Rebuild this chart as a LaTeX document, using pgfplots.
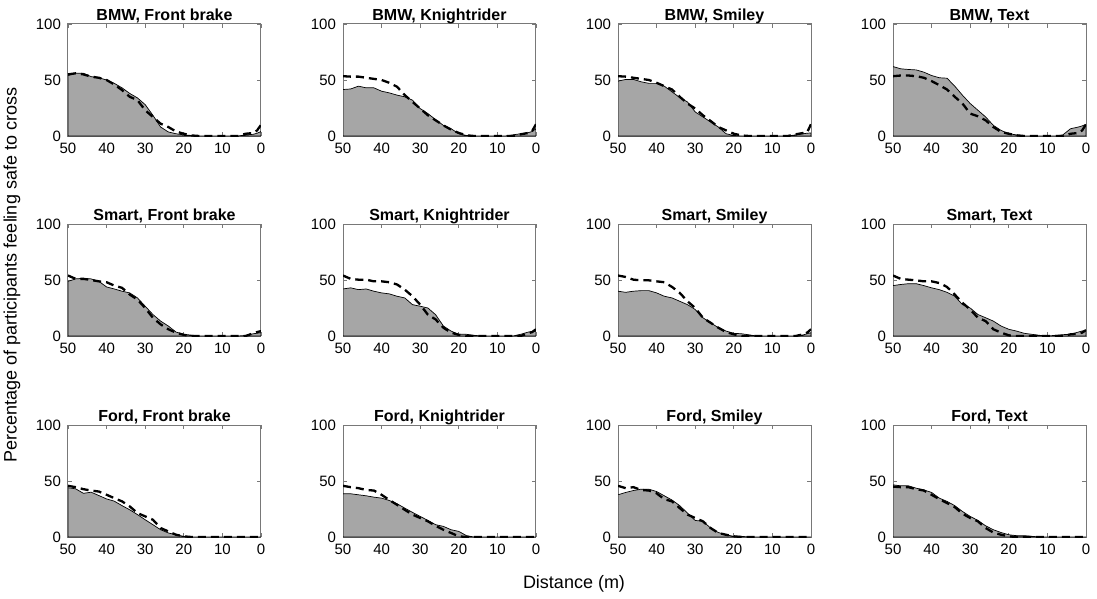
\documentclass[border=0pt]{standalone}
\usepackage{fontspec}
\setmainfont{Liberation Sans}
\usepackage{pgfplots}
\usepackage{pgfplotstable}
\pgfplotsset{compat=1.18}

\definecolor{areagray}{RGB}{166,166,166}
\definecolor{framegray}{RGB}{120,120,120}

% d = distance (m), s = grey area (solid), k = dashed line
\pgfplotstableread{
d s k
50 54 55
48 56 56
46 56 55
44 53 53
42 52 52
40 50 50
38 47 46
36 43 41
34 38 35
32 34 32
30 28 23
28 18.5 17
26 8 11
24 3.6 8
22 2 4
20 1 2
18 0.5 0.5
16 0 0
14 0 0
12 0 0
10 0 0
8 0 0
6 0 0
4 1 2
2 1.5 2.7
1 2.5 5
0 4 10
}\bmwFront
\pgfplotstableread{
d s k
50 41.5 53.4
48 42 53
46 44.5 53
44 43 52
42 43 51
40 40 50
38 38.5 47.5
36 36.5 44
34 35 36.5
32 32 30.5
30 24.5 24.5
28 20 18.5
26 14.6 14
24 9.5 9.5
22 6.5 5.7
20 2 2.7
18 0.5 0.6
16 0 0
14 0 0
12 0 0
10 0 0
8 0 0
6 1 0
4 2 1.5
2 3 2.7
1 4 4.5
0 6.5 10.5
}\bmwKnight
\pgfplotstableread{
d s k
50 49 53.4
48 50.5 53
46 50.5 52
44 48.4 51
42 47 50
40 47 47.5
38 44.5 44.5
36 39.4 41.5
34 34.3 35
32 30.4 29
30 21.5 24.5
28 17 18.5
26 12.5 13.4
24 8 8
22 2 5
20 0.5 2
18 0 0.5
16 0 0
14 0 0
12 0 0
10 0 0
8 0 0
6 0 0
4 1 1.5
2 2 2.7
1 2.5 3.3
0 2.7 10.5
}\bmwSmiley
\pgfplotstableread{
d s k
50 62 53.4
48 60 54
46 59.4 54
44 59 53.4
42 57 52
40 54 49
38 52 45.4
36 51.6 41.5
34 44.5 35
32 36.4 29
30 29 20
28 23 17.6
26 17 14
24 9.5 8
22 5 3.6
20 2 2
18 1 0.6
16 0 0
14 0 0
12 0 0
10 0 0
8 0 0
6 1 0
4 6.5 2
2 8 2.7
1 9 5
0 10.4 10.4
}\bmwText
\pgfplotstableread{
d s k
50 48.8 54
48 51 51
46 51.5 51
44 51 50
42 48.8 48.8
40 43.8 48
38 42 45
36 40 43
34 38.5 37
32 34 32.5
30 26.6 25
28 19.2 16.3
26 13.3 10.4
24 8.9 6
22 3.5 3
20 1.5 1
18 0.8 0
16 0 0
14 0 0
12 0 0
10 0 0
8 0 0
6 0 0
4 0.5 0
2 2 2.4
1 2.5 3.5
0 3 4.4
}\smartFront
\pgfplotstableread{
d s k
50 42 54
48 43 51
46 41.4 50.3
44 42 50.3
42 40 48.8
40 38.5 48.8
38 37.6 48
36 35.5 46
34 34 41.4
32 28 35.5
30 26.6 28
28 25 19
26 19 14.8
24 9 7.4
22 4.4 3
20 1.5 1
18 1.5 0
16 0.6 0
14 0 0
12 0 0
10 0 0
8 0 0
6 0 0
4 1.5 0
2 3.5 2.4
1 4 3.5
0 4.4 6
}\smartKnight
\pgfplotstableread{
d s k
50 40 54
48 39 52.7
46 40 50.3
44 40.5 49.7
42 40.5 49.7
40 38.5 48.8
38 35.5 48
36 34 43.8
34 31 38.5
32 28 31
30 23.7 25
28 16.3 16.3
26 11.8 11.8
24 7.4 7.4
22 4.4 3.5
20 2.4 1.5
18 2 0
16 1 0
14 0 0
12 0 0
10 0 0
8 0 0
6 0 0
4 0 0
2 1 1.5
1 2 3
0 3 6
}\smartSmiley
\pgfplotstableread{
d s k
50 45 54
48 46 51
46 46.7 50.3
44 46.7 49.7
42 45 48.8
40 43 48.8
38 41.4 47.3
36 39 43.8
34 35.5 37
32 28 29.6
30 25 23.7
28 19.2 16.3
26 16.3 13.3
24 13.3 6
22 8.9 3
20 6 0.6
18 4.4 0
16 2.4 0
14 1.5 0
12 0.6 0
10 0 0
8 0.6 0
6 1.2 0
4 1.5 1.5
2 3.5 2
1 4.5 3
0 5 5.3
}\smartText
\pgfplotstableread{
d s k
50 44 45.7
48 43 44.5
46 39 42.7
44 40 41.5
42 37 40.6
40 34 37.7
38 32 34.7
36 28 31.8
34 24.3 27.3
32 20 21.4
30 15.4 18.4
28 11 15.4
26 6.5 8
24 3.6 5
22 2 2
20 0.6 0.6
18 0 0
16 0 0
14 0 0
12 0 0
10 0 0
8 0 0
6 0 0
4 0 0
2 0 0
1 0 0
0 0 0
}\fordFront
\pgfplotstableread{
d s k
50 38.6 45.7
48 38.6 44.5
46 37.7 43.6
44 36.8 42
42 35.6 41.5
40 34.7 37.7
38 32.6 33
36 29.7 28.8
34 25.8 24.3
32 22 20
30 18.4 17
28 14.8 14
26 11 10
24 9.5 6.5
22 6.5 3.6
20 5 0.6
18 1.2 0
16 0 0
14 0 0
12 0 0
10 0 0
8 0 0
6 0 0
4 0 0
2 0 0
1 0 0
0 0 0
}\fordKnight
\pgfplotstableread{
d s k
50 37.7 45.7
48 39.8 43.6
46 41.5 44.5
44 42.7 42
42 42.7 41.5
40 40.6 39
38 36.8 33.8
36 33 31.8
34 28 25.8
32 21.4 20
30 14.8 17
28 14 14
26 8 8
24 4 3.6
22 2 2
20 0.6 0.6
18 0.6 0
16 0 0
14 0 0
12 0 0
10 0 0
8 0 0
6 0 0
4 0 0
2 0 0
1 0 0
0 0 0
}\fordSmiley
\pgfplotstableread{
d s k
50 46.6 45
48 45.7 44.5
46 45.7 44.5
44 43.6 42.7
42 42 41.5
40 39.8 37.7
38 34.7 33.8
36 31.8 30.3
34 28 26.7
32 22.8 20.8
30 18.4 17
28 14.8 14
26 10 8
24 6.5 4
22 4 2
20 2 0.6
18 1.2 0
16 1.2 0
14 0.6 0
12 0 0
10 0 0
8 0 0
6 0 0
4 0 0
2 0 0
1 0 0
0 0 0
}\fordText

\pgfplotsset{
  panel/.style={
    scale only axis,
    width=96.5pt, height=56pt,
    anchor=north west,
    x dir=reverse,
    xmin=0, xmax=50, ymin=0, ymax=100,
    xtick={0,10,20,30,40,50},
    ytick={0,50,100},
    tick align=inside,
    major tick length=2pt,
    axis line style={framegray, line width=0.5pt},
    every tick/.style={framegray, line width=0.4pt},
    tick label style={font=\fontsize{7.5}{9}\selectfont},
    /pgf/number format/assume math mode=true,
    title style={font=\bfseries\fontsize{8}{9.5}\selectfont, inner sep=0pt,
      anchor=base, yshift=-4.3pt},
  }
}

\newcommand\panel[4]{%
  \begin{axis}[panel, at={(#1*0.5pt,-#2*0.5pt)}, title={#3}]
    \addplot[fill=areagray, draw=black, line width=0.35pt] table[x=d,y=s]{#4} \closedcycle;
    \addplot[black, line width=1.15pt, dash pattern=on 4pt off 2.5pt] table[x=d,y=k]{#4};
  \end{axis}}

\begin{document}
\begin{tikzpicture}
  \useasboundingbox (0,0) rectangle (548.5pt,-299.5pt);

  \panel{68}{24}{BMW, Front brake}{\bmwFront}
  \panel{343}{24}{BMW, Knightrider}{\bmwKnight}
  \panel{618}{24}{BMW, Smiley}{\bmwSmiley}
  \panel{893}{24}{BMW, Text}{\bmwText}

  \panel{68}{224}{Smart, Front brake}{\smartFront}
  \panel{343}{224}{Smart, Knightrider}{\smartKnight}
  \panel{618}{224}{Smart, Smiley}{\smartSmiley}
  \panel{893}{224}{Smart, Text}{\smartText}

  \panel{68}{425}{Ford, Front brake}{\fordFront}
  \panel{343}{425}{Ford, Knightrider}{\fordKnight}
  \panel{618}{425}{Ford, Smiley}{\fordSmiley}
  \panel{893}{425}{Ford, Text}{\fordText}

  \node[rotate=90, font=\fontsize{9}{11}\selectfont] at (6pt,-137.5pt)
    {Percentage of participants feeling safe to cross};
  \node[font=\fontsize{9}{11}\selectfont] at (287pt,-292pt) {Distance (m)};
\end{tikzpicture}
\end{document}
